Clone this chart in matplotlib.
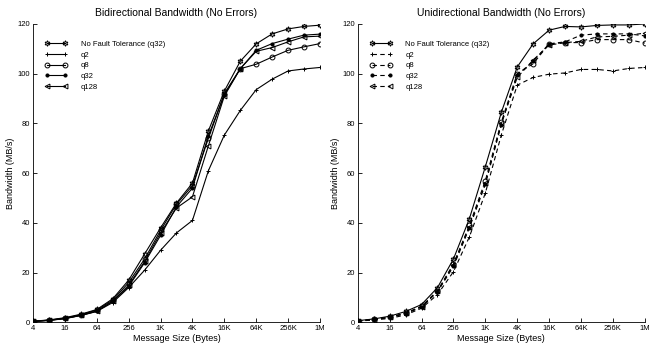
import numpy as np
import matplotlib
matplotlib.use("Agg")
import matplotlib.pyplot as plt
from matplotlib import font_manager

# message sizes (bytes) and tick labels
sizes = [4, 8, 16, 32, 64, 128, 256, 512, 1024, 2048, 4096, 8192, 16384,
         32768, 65536, 131072, 262144, 524288, 1048576]
tick_sizes = [4, 16, 64, 256, 1024, 4096, 16384, 65536, 262144, 1048576]
tick_labels = ["4", "16", "64", "256", "1K", "4K", "16K", "64K", "256K", "1M"]

labels = ["No Fault Tolerance (q32)", "q2", "q8", "q32", "q128"]

# bidirectional bandwidth (MB/s)
bi_nft = [0.5, 1.0, 1.9, 3.3, 5.2, 9.5, 17, 27.5, 38, 48, 56, 77, 93,
          105, 112, 116, 118, 119, 119.5]
bi_q2 = [0.4, 0.8, 1.5, 2.8, 4.4, 8, 14, 21, 29, 36, 41, 61, 75.3,
         85.2, 93.6, 97.8, 101.1, 101.9, 102.5]
bi_q8 = [0.5, 0.9, 1.7, 3.1, 5.0, 9, 16, 25.5, 37, 47.5, 55, 74, 92,
         102, 103.8, 106.7, 109.4, 110.8, 112.1]
bi_q32 = [0.4, 0.8, 1.6, 2.8, 4.5, 8.5, 14.5, 24, 35, 46.5, 54, 75, 91.5,
          102, 109.4, 112.1, 113.9, 115.5, 115.9]
bi_q128 = [0.4, 0.9, 1.6, 2.9, 4.6, 8.5, 15, 24.5, 36, 46, 50.5, 71, 91,
           102, 109, 110.5, 112.8, 114.8, 115.1]

# unidirectional bandwidth (MB/s)
uni_nft = [0.7, 1.4, 2.5, 4.4, 7.2, 14, 25.5, 41.7, 62.6, 84.4, 102.7, 112,
           117.5, 119, 118.8, 119.4, 119.6, 119.6, 120]
uni_q2 = [0.5, 1.0, 1.6, 3.0, 5.7, 11.2, 20.4, 34.4, 52, 75.3, 95.4, 98.5,
          99.8, 100.3, 101.7, 101.7, 101.1, 102.1, 102.5]
uni_q8 = [0.6, 1.2, 2.2, 3.8, 6.5, 12.8, 23.5, 39, 57, 80.5, 100, 104,
          112, 112.5, 112.5, 113.7, 113.7, 113.7, 112.3]
uni_q32 = [0.6, 1.2, 2.0, 3.5, 6.2, 12.3, 22.5, 38, 55.5, 79.5, 99.5, 105,
           112, 112.8, 115.5, 116, 116, 116, 115.2]
uni_q128 = [0.6, 1.1, 2.1, 3.6, 6.3, 12.5, 23, 38.5, 56, 80, 98.5, 105.5,
            111.5, 112.5, 113, 114.8, 115, 115.5, 116.3]

names = [f.name for f in font_manager.fontManager.ttflist]
fam = "Liberation Sans Narrow" if "Liberation Sans Narrow" in names else "Liberation Sans"
plt.rcParams["font.family"] = [fam, "DejaVu Sans"]

hexagram = (6, 1, 0)
markers = [hexagram, "+", "o", ".", "<"]
msizes = [4, 3.5, 3.5, 4.5, 3.5]


def draw(ax, series, title, dashed):
    for i, (y, lab) in enumerate(zip(series, labels)):
        ls = "--" if (dashed and i > 0) else "-"
        filled = markers[i] == "."
        ax.plot(sizes, y, color="k", linestyle=ls, linewidth=0.8,
                marker=markers[i], markersize=msizes[i],
                markerfacecolor="k" if filled else "none",
                markeredgecolor="k", markeredgewidth=0.7,
                dashes=(4, 3) if ls == "--" else (None, None), label=lab)
    ax.set_xscale("log", base=2)
    ax.set_xlim(4, 1048576)
    ax.set_ylim(0, 120)
    ax.set_xticks(tick_sizes)
    ax.set_xticklabels(tick_labels)
    ax.minorticks_off()
    ax.set_yticks([0, 20, 40, 60, 80, 100, 120])
    ax.tick_params(direction="in", length=3, width=0.6, labelsize=5.5, pad=2)
    for s in ["top", "right"]:
        ax.spines[s].set_visible(False)
    for s in ["left", "bottom"]:
        ax.spines[s].set_linewidth(0.6)
    ax.set_title(title, fontsize=7.5, pad=6)
    ax.set_xlabel("Message Size (Bytes)", fontsize=6.5, labelpad=1)
    ax.set_ylabel("Bandwidth (MB/s)", fontsize=6.5, labelpad=2)
    ax.legend(loc="upper left", bbox_to_anchor=(0.025, 0.96), frameon=False,
              numpoints=2, fontsize=5.5, handlelength=3.0, handletextpad=1.7,
              labelspacing=0.45, borderaxespad=0.2)


fig = plt.figure(figsize=(6.65, 3.52), dpi=100)
ax1 = fig.add_axes([0.0496, 0.084, 0.4316, 0.848])
ax2 = fig.add_axes([0.538, 0.084, 0.4316, 0.848])

draw(ax1, [bi_nft, bi_q2, bi_q8, bi_q32, bi_q128],
     "Bidirectional Bandwidth (No Errors)", False)
draw(ax2, [uni_nft, uni_q2, uni_q8, uni_q32, uni_q128],
     "Unidirectional Bandwidth (No Errors)", True)

fig.savefig("out.png", dpi=100)
